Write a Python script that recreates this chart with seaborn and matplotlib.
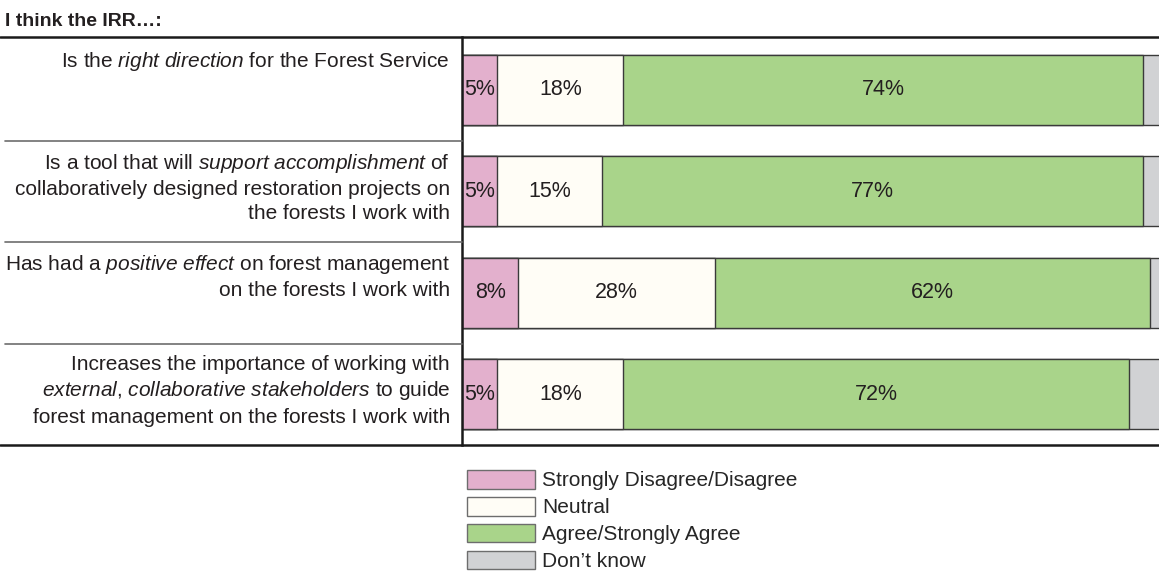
import matplotlib
matplotlib.use('Agg')
import matplotlib.pyplot as plt
from matplotlib.lines import Line2D
from matplotlib.patches import Patch
import matplotlib.transforms as mtransforms
import pandas as pd
import seaborn as sns

# survey data (percent of respondents)
statements = [
    'Is the $\\mathit{right\\ direction}$ for the Forest Service',
    'Is a tool that will $\\mathit{support\\ accomplishment}$ of\n'
    'collaboratively designed restoration projects on\n'
    'the forests I work with',
    'Has had a $\\mathit{positive\\ effect}$ on forest management\n'
    'on the forests I work with',
    'Increases the importance of working with\n'
    '$\\mathit{external}$, $\\mathit{collaborative\\ stakeholders}$ to guide\n'
    'forest management on the forests I work with',
]
categories = ['Strongly Disagree/Disagree', 'Neutral', 'Agree/Strongly Agree', "Don\u2019t know"]
disagree = [5, 5, 8, 5]
neutral = [18, 15, 28, 18]
agree = [74, 77, 62, 72]
dont_know = [3, 3, 2, 5]
colors = ['#e3b0cd', '#fffdf6', '#a9d48a', '#d1d2d4']

sns.set_style('white')
plt.rcParams['font.family'] = ['Liberation Sans', 'DejaVu Sans']
plt.rcParams['mathtext.fontset'] = 'custom'
plt.rcParams['mathtext.rm'] = 'Liberation Sans'
plt.rcParams['mathtext.it'] = 'Liberation Sans:italic'

df = pd.DataFrame({'row': range(4), 'd': disagree, 'n': neutral, 'a': agree, 'k': dont_know})
df['c1'] = df['d']
df['c2'] = df['c1'] + df['n']
df['c3'] = df['c2'] + df['a']
df['c4'] = df['c3'] + df['k']

fig = plt.figure(figsize=(11.59, 5.72), dpi=100)
ax = fig.add_axes([462 / 1159, 127 / 572, 702 / 1159, 408 / 572])

# stacked bars: draw cumulative totals from largest to smallest
for col, c in zip(['c4', 'c3', 'c2', 'c1'], colors[::-1]):
    sns.barplot(data=df, x=col, y='row', orient='h', color=c, width=0.69,
                edgecolor='#3a3a3a', linewidth=1.0, saturation=1, ax=ax)

ax.set_xlim(0, 100)
ax.set_ylim(3.5, -0.52)
ax.set_xlabel('')
ax.set_ylabel('')
ax.set_xticks([])
ax.set_yticks([])
for s in ['top', 'right', 'bottom']:
    ax.spines[s].set_visible(False)
ax.spines['left'].set_linewidth(1.8)
ax.spines['left'].set_color('#1a1a1a')

# percentage labels
for i in range(4):
    starts = [0, disagree[i], disagree[i] + neutral[i]]
    for st, v in zip(starts, [disagree[i], neutral[i], agree[i]]):
        ax.text(st + v / 2, i, f'{v}%', ha='center', va='center',
                fontsize=15.5, color='#231f20')

# statement labels
trans = mtransforms.blended_transform_factory(ax.transAxes, ax.transData)
for i, lab in enumerate(statements):
    ax.text(-0.017, i - 0.39, lab, transform=trans, ha='right', va='top',
            fontsize=15, color='#231f20', linespacing=1.34)

# rules
fig.add_artist(Line2D([0, 1], [1 - 37 / 572] * 2, color='#1a1a1a', lw=1.8))
fig.add_artist(Line2D([0, 1], [1 - 445 / 572] * 2, color='#1a1a1a', lw=1.8))
for y in [141, 242, 344]:
    fig.add_artist(Line2D([5 / 1159, 462 / 1159], [1 - y / 572] * 2, color='#6d6d6d', lw=1.2))

fig.text(5 / 1159, 1 - 21 / 572, 'I think the IRR\u2026:', fontsize=14,
         fontweight='bold', ha='left', va='center', color='#231f20')

handles = [Patch(facecolor=c, edgecolor='#6d6d6d', linewidth=1.0) for c in colors]
fig.legend(handles, categories, loc='upper left', bbox_to_anchor=(467 / 1159, 1 - 470 / 572),
           frameon=False, fontsize=15, handlelength=3.27, handleheight=1.0,
           labelspacing=0.31, handletextpad=0.35, borderpad=0, borderaxespad=0)

fig.savefig('out.png', dpi=100)
